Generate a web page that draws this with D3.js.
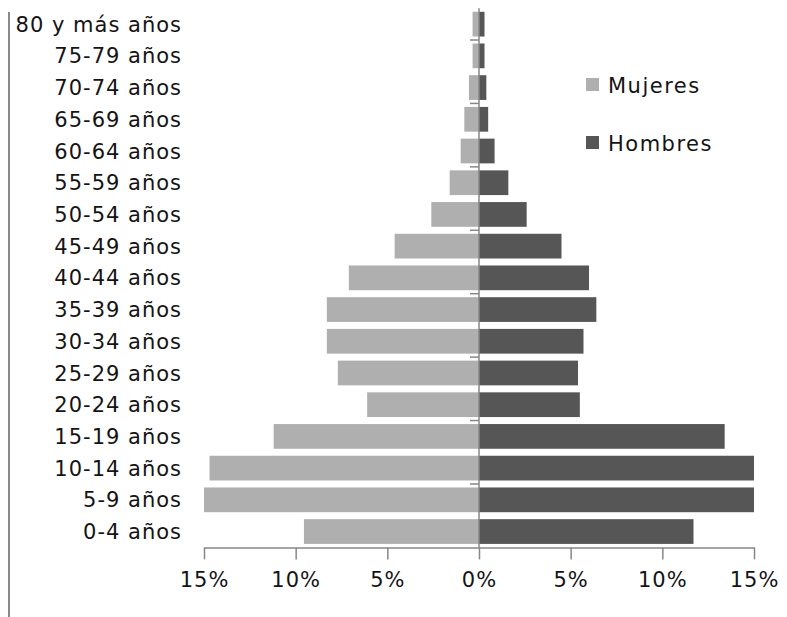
<!DOCTYPE html>
<html>
<head>
<meta charset="utf-8">
<script src="https://cdn.jsdelivr.net/npm/d3@7"></script>
<style>
  html, body { margin: 0; padding: 0; background: #fff; }
  svg text { font-family: "DejaVu Sans", Verdana, sans-serif; fill: #141414; }
</style>
</head>
<body>
<svg id="chart" width="787" height="617"></svg>
<script>
// Population pyramid: share of population (%) by age group and sex
const ageGroups = ["0-4 años", "5-9 años", "10-14 años", "15-19 años", "20-24 años",
  "25-29 años", "30-34 años", "35-39 años", "40-44 años", "45-49 años", "50-54 años",
  "55-59 años", "60-64 años", "65-69 años", "70-74 años", "75-79 años", "80 y más años"];
const mujeres = [9.55, 15.0, 14.7, 11.2, 6.1, 7.7, 8.3, 8.3, 7.1, 4.6, 2.6, 1.6, 1.0, 0.8, 0.55, 0.35, 0.35];
const hombres = [11.7, 15.0, 15.0, 13.4, 5.5, 5.4, 5.7, 6.4, 6.0, 4.5, 2.6, 1.6, 0.85, 0.5, 0.4, 0.3, 0.3];
const tickValues = [-15, -10, -5, 0, 5, 10, 15];
const seriesNames = ["Mujeres", "Hombres"];
const colors = { Mujeres: "#afafaf", Hombres: "#565656" };

const svg = d3.select("#chart");
const plot = { left: 204, right: 754, top: 8.3, bottom: 547.4 };

const x = d3.scaleLinear().domain([-15, 15]).range([plot.left, plot.right]);
const y = d3.scaleBand()
  .domain(ageGroups.slice().reverse())
  .range([plot.top, plot.bottom])
  .paddingInner(0.22)
  .paddingOuter(0.11);

const axisGray = "#878787";

// outer frame edge on the left
svg.append("line")
  .attr("x1", 9).attr("x2", 9).attr("y1", 12).attr("y2", 617)
  .attr("stroke", "#8a8a8a").attr("stroke-width", 2);

// bars
const rows = ageGroups.map((g, i) => ({ g, m: mujeres[i], h: hombres[i] }));
svg.append("g").selectAll("rect.m").data(rows).join("rect")
  .attr("x", d => x(-d.m)).attr("width", d => x(0) - x(-d.m))
  .attr("y", d => y(d.g)).attr("height", y.bandwidth())
  .attr("fill", colors.Mujeres);
svg.append("g").selectAll("rect.h").data(rows).join("rect")
  .attr("x", x(0)).attr("width", d => x(d.h) - x(0))
  .attr("y", d => y(d.g)).attr("height", y.bandwidth())
  .attr("fill", colors.Hombres);

// value axis along the bottom
const xAxis = svg.append("g")
  .attr("transform", `translate(0,${plot.bottom})`)
  .call(d3.axisBottom(x).tickValues(tickValues).tickSize(12).tickSizeOuter(0)
    .tickFormat(d => Math.abs(d) + "%"));
xAxis.select(".domain").attr("stroke", axisGray).attr("stroke-width", 1.5);
xAxis.selectAll(".tick line").attr("stroke", axisGray).attr("stroke-width", 1.5);
xAxis.selectAll(".tick text")
  .attr("y", 25).attr("dy", "0.71em")
  .style("font-size", "21px").style("letter-spacing", "1px")
  .attr("fill", "#141414");

// category axis at zero, with a tick every second group boundary
const step = y.step();
const boundaryTicks = y.domain().filter((d, i) => i % 2 === 1);
const yAxis = svg.append("g").attr("transform", `translate(${x(0)},0)`);
yAxis.append("line")
  .attr("y1", plot.top).attr("y2", plot.bottom)
  .attr("stroke", axisGray).attr("stroke-width", 1.5);
yAxis.selectAll("line.tk").data(boundaryTicks).join("line")
  .attr("x1", -9).attr("x2", 0)
  .attr("y1", d => y(d) - step * y.paddingInner() / 2)
  .attr("y2", d => y(d) - step * y.paddingInner() / 2)
  .attr("stroke", axisGray).attr("stroke-width", 1.5);

// category labels on the left
svg.append("g").selectAll("text").data(ageGroups).join("text")
  .attr("x", 182).attr("y", d => y(d) + y.bandwidth() / 2)
  .attr("dy", "0.36em").attr("text-anchor", "end")
  .style("font-size", "21px").style("letter-spacing", "1px")
  .text(d => d);

// legend
const legend = svg.append("g").selectAll("g").data(seriesNames).join("g")
  .attr("transform", (d, i) => `translate(586,${78 + i * 58})`);
legend.append("rect").attr("width", 13).attr("height", 13).attr("fill", d => colors[d]);
legend.append("text").attr("x", 22).attr("y", 7).attr("dy", "0.36em")
  .style("font-size", "21px").style("letter-spacing", "1.5px")
  .text(d => d);
</script>
</body>
</html>
